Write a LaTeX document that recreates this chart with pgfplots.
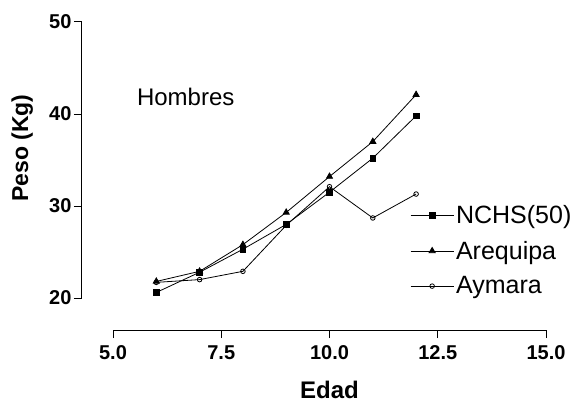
\documentclass[border=0pt]{standalone}
\usepackage{fontspec}
\setmainfont{Liberation Sans}
\usepackage{pgfplots}
\pgfplotsset{compat=1.18}
\begin{document}
\begin{tikzpicture}
\useasboundingbox (-82pt,-104pt) rectangle (496pt,298pt);
% data axis with the y axis
\begin{axis}[
  at={(0pt,0pt)}, anchor=south west,
  scale only axis, width=464pt, height=276pt,
  xmin=4.284, xmax=15, ymin=20, ymax=50,
  axis y line=left, axis x line=none,
  axis line style={-, line width=1pt},
  ytick={20,30,40,50},
  tick align=outside, major tick length=8pt,
  tick style={line width=1pt, black},
  /pgf/number format/assume math mode=true,
  yticklabel style={font=\bfseries\fontsize{20}{22}\selectfont, xshift=1pt},
  ylabel={\bfseries Peso (Kg)},
  ylabel style={font=\fontsize{23}{26}\selectfont, at={(axis description cs:-0.129,0.543)}, anchor=center},
  clip=false,
  reverse legend,
  legend cell align=left,
  legend style={at={(axis description cs:0.707,0.343)}, anchor=north west,
    draw=none, fill=none, inner sep=0pt, row sep=12pt,
    font=\fontsize{25}{28}\selectfont},
  legend image code/.code={\draw[mark repeat=2,mark phase=2,#1] plot coordinates {(0pt,0pt) (21.5pt,0pt) (43pt,0pt)};},
]
\addplot[black, line width=0.8pt, mark=o, mark size=2.3pt, mark options={fill=white, line width=0.8pt}]
  coordinates {(6,21.7) (7,22.0) (8,22.9) (9,27.9) (10,32.1) (11,28.7) (12,31.3)};
\addlegendentry{Aymara}
\addplot[black, line width=0.8pt, mark=triangle*, mark size=3.5pt]
  coordinates {(6,21.8) (7,22.9) (8,25.8) (9,29.3) (10,33.2) (11,37.0) (12,42.1)};
\addlegendentry{Arequipa}
\addplot[black, line width=0.8pt, mark=square*, mark size=2.8pt]
  coordinates {(6,20.6) (7,22.8) (8,25.3) (9,28.0) (10,31.5) (11,35.2) (12,39.8)};
\addlegendentry{NCHS(50)}
\node[anchor=west, font=\fontsize{24}{28}\selectfont, inner sep=0pt] at (axis cs:5.55,41.9) {Hombres};
\end{axis}
% detached x axis
\begin{axis}[
  at={(31pt,-32pt)}, anchor=south west,
  scale only axis, width=433pt, height=10pt,
  xmin=5, xmax=15, ymin=0, ymax=1,
  axis x line=bottom, axis y line=none,
  axis line style={-, line width=1pt},
  xtick={5,7.5,10,12.5,15},
  tick align=outside, major tick length=8pt,
  tick style={line width=1pt, black},
  /pgf/number format/assume math mode=true,
  xticklabel style={font=\bfseries\fontsize{20}{22}\selectfont, yshift=-4pt,
    /pgf/number format/.cd, fixed, fixed zerofill, precision=1},
  xlabel={\bfseries Edad},
  xlabel style={font=\fontsize{24}{28}\selectfont, at={(axis description cs:0.5,0)}, anchor=base, yshift=-68pt},
]
\addplot[draw=none] coordinates {(5,0)};
\end{axis}
\end{tikzpicture}
\end{document}
